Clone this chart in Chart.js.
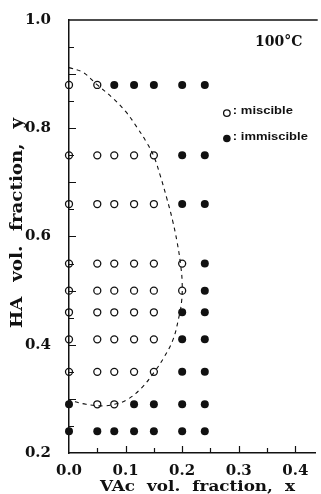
<!DOCTYPE html>
<html>
<head>
<meta charset="utf-8">
<script src="https://cdn.jsdelivr.net/npm/chart.js@4.4.0/dist/chart.umd.min.js"></script>
<style>
  html, body { margin: 0; padding: 0; background: #fff; }
  canvas { display: block; }
</style>
</head>
<body>
<canvas id="grafico" width="321" height="494"></canvas>
<script>
// composiciones medidas (fraccion en volumen)
const xLevels = [0.0, 0.05, 0.08, 0.115, 0.15, 0.20, 0.24];
const yLevels = [0.88, 0.75, 0.66, 0.55, 0.50, 0.46, 0.41, 0.35, 0.29, 0.24];
// o = miscible, i = immiscible (una letra por cada xLevels)
const phaseRows = [
  "ooiiiii",
  "oooooii",
  "oooooii",
  "ooooooi",
  "ooooooi",
  "oooooii",
  "oooooii",
  "oooooii",
  "iooiiii",
  "iiiiiii",
];
// curva punteada (limite de miscibilidad)
const curveX = [0.0, 0.025, 0.049, 0.075, 0.10, 0.12, 0.137, 0.15, 0.162, 0.173, 0.183, 0.191, 0.197, 0.20, 0.199, 0.194, 0.184, 0.168, 0.151, 0.128, 0.102, 0.08, 0.06, 0.03, 0.0];
const curveY = [0.912, 0.903, 0.881, 0.858, 0.831, 0.802, 0.774, 0.748, 0.71, 0.67, 0.63, 0.59, 0.55, 0.515, 0.48, 0.45, 0.41, 0.377, 0.35, 0.32, 0.298, 0.29, 0.287, 0.29, 0.298];
const xTicks = [0.0, 0.1, 0.2, 0.3, 0.4];
const yTicks = [0.2, 0.4, 0.6, 0.8, 1.0];
const legendLabels = [": miscible", ": immiscible"];
const legendX = 0.279;
const legendY = [0.828, 0.781];
const tempLabel = "100°C";

let miscibles = [];
let inmiscibles = [];
yLevels.forEach(function (y, i) {
  xLevels.forEach(function (x, j) {
    if (phaseRows[i][j] === "o") {
      miscibles.push({ x: x, y: y });
    } else {
      inmiscibles.push({ x: x, y: y });
    }
  });
});
const curva = curveX.map((x, i) => ({ x: x, y: curveY[i] }));

const serif = "'DejaVu Serif', serif";

// estira el texto a lo ancho y reparte el resto entre palabras
function textoAncho(ctx, texto, x, y, ancho, maxEstirar) {
  ctx.wordSpacing = "0px";
  const w = ctx.measureText(texto).width;
  const f = Math.min(maxEstirar, ancho / w);
  const huecos = texto.split(" ").length - 1;
  if (huecos > 0) {
    ctx.wordSpacing = Math.max(0, (ancho / f - w) / huecos) + "px";
  }
  ctx.save();
  ctx.translate(x, y);
  ctx.scale(f, 1);
  ctx.textAlign = "left";
  ctx.fillText(texto, 0, 0);
  ctx.restore();
  ctx.wordSpacing = "0px";
}

const marcos = {
  id: "marcos",
  afterDraw(chart) {
    const ctx = chart.ctx;
    const a = chart.chartArea;
    const sx = chart.scales.x;
    const sy = chart.scales.y;
    ctx.save();
    ctx.strokeStyle = "#111";
    ctx.lineWidth = 1.4;
    ctx.beginPath();
    ctx.moveTo(a.left, a.top);
    ctx.lineTo(a.right + 2, a.top);
    ctx.stroke();

    // marcas hacia adentro
    ctx.lineWidth = 1.2;
    ctx.beginPath();
    for (let k = 1; k <= 8; k++) {
      const px = Math.round(sx.getPixelForValue(k * 0.05)) + 0.5;
      const len = k % 2 === 0 ? 7 : 5;
      ctx.moveTo(px, a.bottom);
      ctx.lineTo(px, a.bottom - len);
    }
    for (let k = 5; k <= 19; k++) {
      const py = Math.round(sy.getPixelForValue(k * 0.05)) + 0.5;
      const len = k % 2 === 0 ? 7 : 5;
      ctx.moveTo(a.left, py);
      ctx.lineTo(a.left + len, py);
    }
    ctx.stroke();

    // titulos de ejes
    ctx.fillStyle = "#111";
    ctx.font = "bold 15px " + serif;
    ctx.textBaseline = "alphabetic";
    textoAncho(ctx, "VAc vol. fraction, x", 100, 491, 195, 1.12);
    ctx.save();
    ctx.translate(22, 223);
    ctx.rotate(-Math.PI / 2);
    ctx.font = "bold 16px " + serif;
    textoAncho(ctx, "HA vol. fraction, y", -105, 0, 210, 1.14);
    ctx.restore();

    // temperatura
    ctx.font = "bold 14px " + serif;
    ctx.textAlign = "left";
    ctx.fillText(tempLabel, 255, 46);

    // leyenda
    const lx = sx.getPixelForValue(legendX);
    const anchos = [60, 75];
    ctx.font = "bold 11px 'Liberation Sans', sans-serif";
    ctx.textBaseline = "middle";
    legendY.forEach(function (v, i) {
      const ly = sy.getPixelForValue(v);
      ctx.beginPath();
      ctx.arc(lx, ly, i === 0 ? 3.3 : 3.8, 0, Math.PI * 2);
      if (i === 0) {
        ctx.lineWidth = 1.3;
        ctx.stroke();
      } else {
        ctx.fill();
      }
      textoAncho(ctx, legendLabels[i], lx + 6, ly - 2, anchos[i], 1.3);
    });
    ctx.restore();
  },
};

const config = {
  type: "scatter",
  data: {
    datasets: [
      {
        label: "miscible",
        data: miscibles,
        pointRadius: 3.5,
        pointBorderWidth: 1.3,
        pointBorderColor: "#111",
        pointBackgroundColor: "rgba(0,0,0,0)",
        clip: false,
      },
      {
        label: "immiscible",
        data: inmiscibles,
        pointRadius: 4,
        pointBorderWidth: 0,
        pointBackgroundColor: "#111",
        clip: false,
      },
      {
        label: "curva",
        data: curva,
        showLine: true,
        pointRadius: 0,
        borderColor: "#111",
        borderWidth: 1.1,
        borderDash: [4, 4],
        tension: 0.4,
        clip: false,
      },
    ],
  },
  options: {
    responsive: false,
    animation: false,
    devicePixelRatio: 1,
    layout: { padding: { top: 20, right: 0, left: 0, bottom: 0 } },
    plugins: {
      legend: { display: false },
      tooltip: { enabled: false },
    },
    scales: {
      x: {
        type: "linear",
        min: 0,
        max: 0.436,
        grid: { display: false },
        border: { display: true, color: "#111", width: 1.5 },
        ticks: {
          color: "#111",
          padding: 1,
          font: { family: serif, size: 15, weight: "bold" },
          callback: (v) => v.toFixed(1),
        },
        afterBuildTicks: (s) => { s.ticks = xTicks.map((v) => ({ value: v })); },
        afterFit: (s) => { s.height = 41; },
      },
      y: {
        type: "linear",
        min: 0.2,
        max: 1.0,
        grid: { display: false },
        border: { display: true, color: "#111", width: 1.5 },
        ticks: {
          color: "#111",
          padding: 10,
          font: { family: serif, size: 15, weight: "bold" },
          callback: (v) => v.toFixed(1),
        },
        afterBuildTicks: (s) => { s.ticks = yTicks.map((v) => ({ value: v })); },
        afterFit: (s) => { s.width = 69; },
      },
    },
  },
  plugins: [marcos],
};

new Chart(document.getElementById("grafico"), config);
</script>
</body>
</html>
